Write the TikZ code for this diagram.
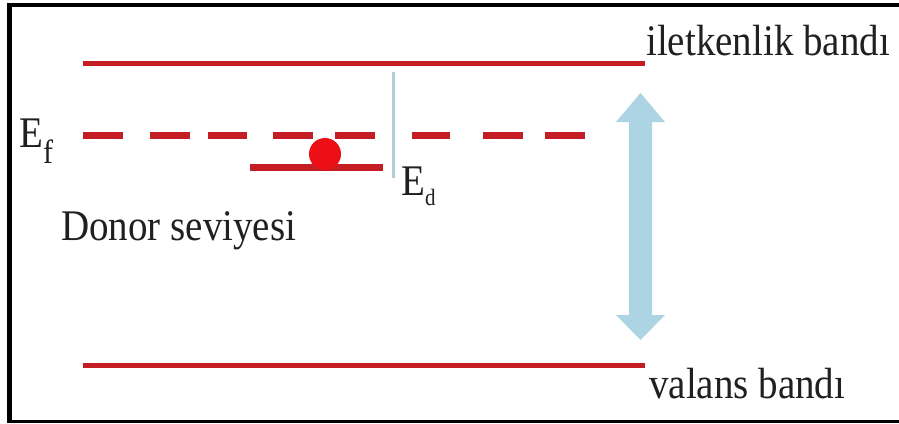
\documentclass[tikz,border=0pt]{standalone}
\usepackage{fontspec}
\setmainfont{Liberation Serif}
\definecolor{bandred}{RGB}{196,30,36}
\definecolor{dotred}{RGB}{236,16,22}
\definecolor{gapblue}{RGB}{172,212,226}
\definecolor{tickblue}{RGB}{178,206,220}
\definecolor{inkgray}{RGB}{32,32,32}
\tikzset{
  band/.style={draw=bandred, line width=5.5pt},
  label/.style={inner sep=0pt, anchor=base west, text=inkgray,
                font=\fontsize{39}{40}\selectfont},
}
\newcommand{\tallertext}[1]{\scalebox{1}[1.12]{#1}}
\begin{document}
\begin{tikzpicture}[x=1pt, y=-1pt]
  \useasboundingbox (0,0) rectangle (899,423);
  \fill[white] (0,0) rectangle (899,423);

  % frame, open on the right
  \draw[black, line width=4.5pt] (9.5,423) -- (9.5,5) -- (899,5);
  \draw[black, line width=3pt] (7.25,421.5) -- (899,421.5);

  % conduction and valence bands
  \coordinate (cb-w) at (83,63.5);
  \coordinate (cb-e) at (645,63.5);
  \coordinate (vb-w) at (83,365.5);
  \coordinate (vb-e) at (645,365.5);
  \draw[band] (cb-w) -- (cb-e);
  \draw[band] (vb-w) -- (vb-e);

  % Fermi level, dashed
  \coordinate (ef-w) at (83,135.5);
  \coordinate (ef-e) at (585,135.5);
  \draw[draw=bandred, line width=7pt,
        dash pattern=on 40pt off 27pt on 40pt off 18pt on 39pt off 26pt
                     on 40pt off 22pt on 40pt off 37pt on 38pt off 33pt
                     on 40pt off 22pt on 40pt]
    (ef-w) -- (ef-e);

  % donor level with its electron
  \coordinate (dl-w) at (250,167.5);
  \coordinate (dl-e) at (383,167.5);
  \draw[draw=bandred, line width=6.5pt] (dl-w) -- (dl-e);
  \fill[dotred] (325,154) circle[radius=16];

  % thin marker for the donor energy
  \coordinate (ed-top) at (393.5,72);
  \coordinate (ed-bot) at (393.5,178);
  \draw[tickblue, line width=3pt] (ed-top) -- (ed-bot);

  % band gap double arrow
  \fill[gapblue] (640.5,93) -- (665,122) -- (652,122) -- (652,315)
    -- (665,315) -- (640.5,340) -- (616,315) -- (629,315) -- (629,122)
    -- (616,122) -- cycle;

  % labels
  \node[label] (cb) at (646,55) {\tallertext{iletkenlik bandı}};
  \node[label] (vb) at (649,398) {\tallertext{valans bandı}};
  \node[label] (donor) at (61,240) {\tallertext{Donor seviyesi}};
  \node[label] (ef) at (19,147)
    {\tallertext{E\raisebox{-15pt}{\fontsize{30}{30}\selectfont f}}};
  \node[label] (ed) at (401,195)
    {\tallertext{E\raisebox{-9pt}{\fontsize{21}{21}\selectfont d}}};
\end{tikzpicture}
\end{document}
